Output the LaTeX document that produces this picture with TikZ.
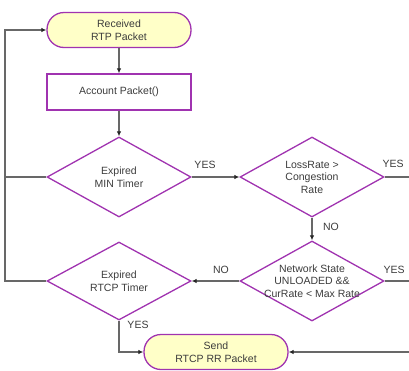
\documentclass[tikz,border=0pt]{standalone}
\usepackage{fontspec}
\setmainfont{Liberation Sans}
\usetikzlibrary{shapes.geometric,arrows.meta}
\definecolor{brd}{HTML}{A033B0}
\definecolor{yel}{HTML}{FFFFC8}
\definecolor{txt}{HTML}{3C3C3C}
\definecolor{ln}{HTML}{686868}
\tikzset{
  base/.style={font=\fontsize{10.5}{12.5}\selectfont, text=txt, align=center},
  term/.style={base, draw=brd, line width=1.3pt, fill=yel, rounded corners=17pt, minimum width=144pt, minimum height=35pt, inner sep=0pt},
  proc/.style={base, draw=brd, line width=1.3pt, fill=white, minimum width=144pt, minimum height=36pt, inner sep=0pt},
  dec/.style={diamond, draw=brd, line width=1.3pt, minimum width=144pt, minimum height=80pt, inner sep=0pt, aspect=1.8},
  conn/.style={draw=ln, line width=1.1pt},
  arr/.style={conn, -{Latex[length=5pt,width=4.5pt,color=black!85]}},
  lab/.style={base, inner sep=0pt}
}
\begin{document}
\begin{tikzpicture}[x=1pt,y=-1pt]
\useasboundingbox (0,0) rectangle (409,370);
\node[term] (rcv) at (119,30) {Received\\RTP Packet};
\node[proc] (acc) at (119,92) {Account Packet()};
\node[dec, label={[lab]center:Expired\\MIN Timer}] (d1) at (119,177) {};
\node[dec, label={[lab]center:LossRate >\\Congestion\\Rate}] (d2) at (312,177) {};
\node[dec, label={[lab]center:Network State\\UNLOADED \&\&\\CurRate < Max Rate}] (d3) at (312,281) {};
\node[dec, minimum height=78pt, label={[lab]center:Expired\\RTCP Timer}] (d4) at (119,281) {};
\node[term] (send) at (216,352) {Send\\RTCP RR Packet};
\coordinate (fbtop) at (5,30);
\coordinate (fb1) at (5,177);
\coordinate (fb2) at (5,281);
\coordinate (r1) at (409,177);
\coordinate (r2) at (409,281);
\coordinate (r3) at (409,352);
\draw[arr] (rcv) -- (acc);
\draw[arr] (acc) -- (d1);
\draw[arr] (d1.east) -- (d2.west);
\draw[arr] (d2.south) -- (d3.north);
\draw[arr] (d3.west) -- (d4.east);
\draw[conn] (d2.east) -- (r1);
\draw[conn] (d3.east) -- (r2);
\draw[arr] (r3) -- (send.east);
\draw[arr] (d4.south) |- (send.west);
\draw[conn] (d1.west) -- (fb1);
\draw[arr] (d4.west) -- (fb2) -- (fbtop) -- (rcv.west);
\node[lab] (y1) at (205,165) {YES};
\node[lab] (y2) at (393,164) {YES};
\node[lab] (n1) at (331,227) {NO};
\node[lab] (n2) at (221,270) {NO};
\node[lab] (y3) at (394,270) {YES};
\node[lab] (y4) at (138,325) {YES};
\end{tikzpicture}
\end{document}
